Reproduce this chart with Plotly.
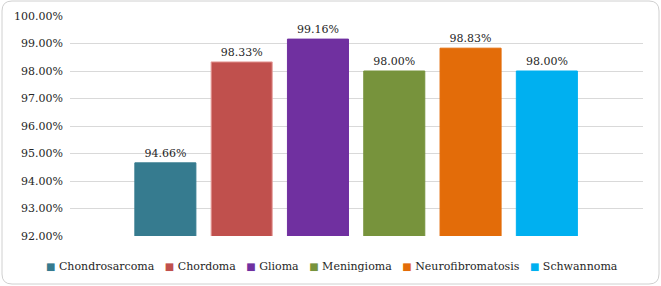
import plotly.graph_objects as go

categories = ["Chondrosarcoma", "Chordoma", "Glioma", "Meningioma", "Neurofibromatosis", "Schwannoma"]
values = [94.66, 98.33, 99.16, 98.00, 98.83, 98.00]
colors = ["#367B8F", "#C0504D", "#7030A0", "#77933C", "#E36C09", "#00B0F0"]
line_colors = ["#367B8F", "#E59A98", "#7030A0", "#77933C", "#E36C09", "#00B0F0"]
tick_vals = [92, 93, 94, 95, 96, 97, 98, 99, 100]
tick_text = [f"{v:.2f}%" for v in tick_vals]

FONT = "DejaVu Serif"
FS = 11
TXT = "#262626"

fig = go.Figure()
for i, (c, v) in enumerate(zip(categories, values)):
    fig.add_trace(go.Bar(
        x=[i], y=[v], name=c, width=0.8,
        marker=dict(color=colors[i], line=dict(color=line_colors[i], width=1)),
        text=[f"{v:.2f}%"], textposition="outside", cliponaxis=False,
        textfont=dict(family=FONT, size=FS, color=TXT),
        showlegend=False,
    ))

W, H = 661, 286
L, R, T, B = 70, 18, 16, 50
pw, ph = W - L - R, H - T - B

def px2paper(x, y):
    return (x - L) / pw, (H - B - y) / ph

x0, y0 = px2paper(2, 1)
x1, y1 = px2paper(659, 284)
rx, ry = 10 / pw, 10 / ph
path = (f"M {x0+rx},{y0} L {x1-rx},{y0} Q {x1},{y0} {x1},{y0-ry} "
        f"L {x1},{y1+ry} Q {x1},{y1} {x1-rx},{y1} "
        f"L {x0+rx},{y1} Q {x0},{y1} {x0},{y1+ry} "
        f"L {x0},{y0-ry} Q {x0},{y0} {x0+rx},{y0} Z")

legend_text = "&nbsp;&nbsp;&nbsp;".join(
    f"<span style='color:{col};font-size:10px'>■</span>&nbsp;{name}"
    for name, col in zip(categories, colors)
)
lx, ly = px2paper(W / 2 + 1, 266)

fig.update_layout(
    width=W, height=H,
    margin=dict(l=L, r=R, t=T, b=B),
    paper_bgcolor="white", plot_bgcolor="white",
    barmode="overlay",
    showlegend=False,
    font=dict(family=FONT, size=FS, color=TXT),
    xaxis=dict(range=[-1.25, 6.26], showticklabels=False, showgrid=False,
               zeroline=False, showline=False, ticks="", automargin=False),
    yaxis=dict(range=[92, 100], tickmode="array", tickvals=tick_vals, ticktext=tick_text,
               showgrid=True, gridcolor="#D9D9D9", gridwidth=1, zeroline=False,
               showline=False, ticks="", ticklabelstandoff=6, automargin=False,
               tickfont=dict(family=FONT, size=FS, color=TXT)),
    annotations=[dict(xref="paper", yref="paper", x=lx, y=ly, xanchor="center", yanchor="middle",
                      text=legend_text, showarrow=False,
                      font=dict(family=FONT, size=FS, color=TXT))],
    shapes=[dict(type="path", xref="paper", yref="paper", path=path,
                 line=dict(color="#D0D0D0", width=1), fillcolor="rgba(0,0,0,0)", layer="below")],
)

fig.write_html("out.html", config={"displayModeBar": False},
               post_script="document.body.style.margin='0';")
